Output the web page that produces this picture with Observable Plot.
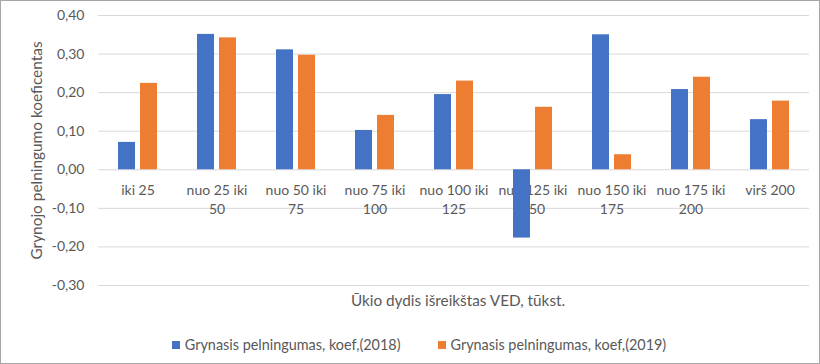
<!DOCTYPE html>
<html>
<head>
<meta charset="utf-8">
<script src="https://cdn.jsdelivr.net/npm/d3@7"></script>
<script src="https://cdn.jsdelivr.net/npm/@observablehq/plot@0.6"></script>
<style>
  html, body { margin: 0; padding: 0; background: white; }
  #frame { box-sizing: border-box; width: 820px; height: 364px; border: 1px solid #a6a6a6; background: white; font-family: Lato, "Liberation Sans", sans-serif; color: #595959; overflow: hidden; }
  #xtitle { height: 14px; line-height: 14px; font-size: 15.3px; text-align: center; padding-left: 96px; white-space: nowrap; }
  #legend { margin-top: 30px; height: 16px; line-height: 16px; font-size: 14.4px; display: flex; justify-content: center; gap: 37px; padding-left: 18px; white-space: nowrap; }
  .item { display: flex; align-items: center; gap: 5px; }
  .sw { width: 8px; height: 8px; display: inline-block; }
</style>
</head>
<body>
<div id="frame">
  <div id="chart"></div>
  <div id="xtitle"></div>
  <div id="legend"></div>
</div>
<script>
const categories = ["iki 25", "nuo 25 iki 50", "nuo 50 iki 75", "nuo 75 iki 100", "nuo 100 iki 125", "nuo 125 iki 150", "nuo 150 iki 175", "nuo 175 iki 200", "virš 200"];
const tickLabels = ["iki 25", "nuo 25 iki\n50", "nuo 50 iki\n75", "nuo 75 iki\n100", "nuo 100 iki\n125", "nuo 125 iki\n150", "nuo 150 iki\n175", "nuo 175 iki\n200", "virš 200"];
const seriesNames = ["Grynasis pelningumas, koef,(2018)", "Grynasis pelningumas, koef,(2019)"];
const values2018 = [0.071, 0.351, 0.311, 0.102, 0.195, -0.177, 0.350, 0.208, 0.130];
const values2019 = [0.224, 0.342, 0.297, 0.141, 0.230, 0.162, 0.039, 0.240, 0.178];
const yTicks = [-0.3, -0.2, -0.1, 0, 0.1, 0.2, 0.3, 0.4];
const colors = ["#4472C4", "#ED7D31"];
const yTitle = "Grynojo pelningumo koeficentas";
const xTitle = "Ūkio dydis išreikštas VED, tūkst.";

const rows = [];
categories.forEach((c, i) => {
  rows.push({cat: c, series: seriesNames[0], value: values2018[i]});
  rows.push({cat: c, series: seriesNames[1], value: values2019[i]});
});
const labelRows = categories.map((c, i) => ({cat: c, label: tickLabels[i]}));

const chart = Plot.plot({
  width: 818,
  height: 292,
  marginLeft: 94,
  marginRight: 7,
  marginTop: 14,
  marginBottom: 8,
  style: {fontFamily: "Lato, 'Liberation Sans', sans-serif", fontSize: "14px", color: "#595959", background: "white"},
  fx: {domain: categories, padding: 0, axis: null},
  x: {domain: seriesNames, axis: null, paddingInner: 0.22, paddingOuter: 0.84},
  y: {domain: [-0.3, 0.4], ticks: yTicks, tickSize: 0, tickPadding: 14,
      tickFormat: d => d.toFixed(2).replace(".", ","),
      label: null},
  color: {domain: seriesNames, range: colors},
  marks: [
    Plot.ruleY(yTicks, {stroke: "#d9d9d9", strokeWidth: 1}),
    Plot.text([yTitle], {fx: () => categories[0], text: d => d, frameAnchor: "left", textAnchor: "middle", lineAnchor: "middle", rotate: -90, dx: -61, fontSize: 15.4, fill: "#595959"}),
    Plot.text(labelRows, {fx: "cat", y: 0, text: "label", lineAnchor: "top", dy: 12, lineHeight: 1.36, fill: "#595959", fontSize: 14}),
    Plot.barY(rows, {fx: "cat", x: "series", y: "value", fill: "series"})
  ]
});
document.getElementById("chart").appendChild(chart);
document.getElementById("xtitle").textContent = xTitle;
const legend = document.getElementById("legend");
seriesNames.forEach((s, i) => {
  const item = document.createElement("div");
  item.className = "item";
  const sw = document.createElement("span");
  sw.className = "sw";
  sw.style.background = colors[i];
  const t = document.createElement("span");
  t.textContent = s;
  item.appendChild(sw);
  item.appendChild(t);
  legend.appendChild(item);
});
</script>
</body>
</html>
